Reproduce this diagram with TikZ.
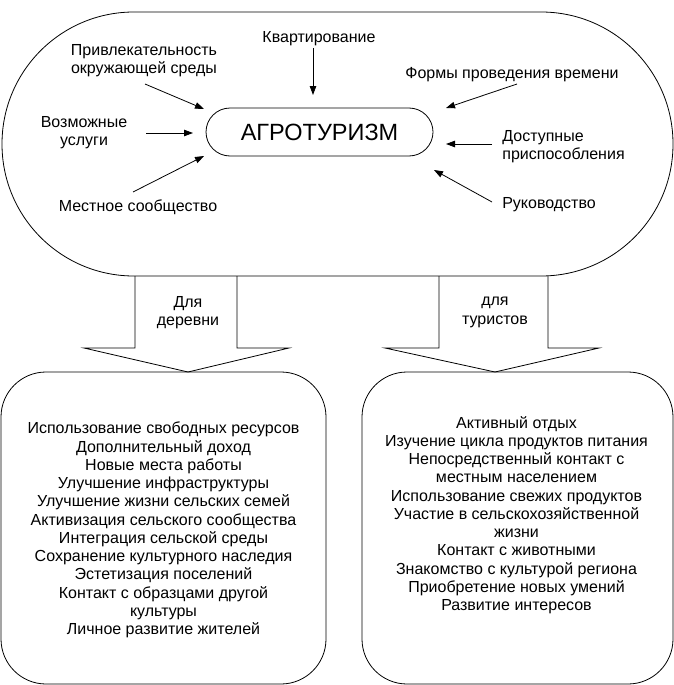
\documentclass[tikz,border=0pt]{standalone}
\usepackage{fontspec}
\setmainfont{Liberation Sans}
\usetikzlibrary{arrows.meta}
\begin{document}
\begin{tikzpicture}[x=1pt,y=-1pt,
  line width=0.8pt,
  lbl/.style={inner sep=0pt,align=center,font=\fontsize{16}{18.3}\selectfont},
  boxtxt/.style={inner sep=0pt,align=center,font=\fontsize{16}{18.25}\selectfont},
  arr/.style={-{Triangle[length=9pt,width=6.5pt]}},
  blockarrow/.style={line width=0.8pt}]
\useasboundingbox (0,0) rectangle (674,685);
% outer stadium
\draw[rounded corners=131.9pt] (2,12) rectangle (673,276);
% central node
\node[draw,rounded corners=24pt,minimum width=227pt,minimum height=48pt,inner sep=0pt,
  font=\fontsize{23.5}{26}\selectfont] (agro) at (319.5,132) {АГРОТУРИЗМ};
% labels
\node[lbl] (privl) at (144,61) {Привлекательность\\окружающей среды};
\node[lbl] (vozm) at (84,132.5) {Возможные\\услуги};
\node[lbl] (mest) at (138,207) {Местное сообщество};
\node[lbl] (kvart) at (319,39) {Квартирование};
\node[lbl] (formy) at (512,75) {Формы проведения времени};
\node[lbl,align=left,anchor=west] (dost) at (502,146.5) {Доступные\\приспособления};
\node[lbl] (ruk) at (549,205) {Руководство};
% arrow end points
\coordinate (p1s) at (145,84);  \coordinate (p1e) at (204,109);
\coordinate (p2s) at (146,133); \coordinate (p2e) at (193,133);
\coordinate (p3s) at (133,192); \coordinate (p3e) at (204,156);
\coordinate (p4s) at (313,48);  \coordinate (p4e) at (313,95);
\coordinate (p5s) at (517,84);  \coordinate (p5e) at (446,108);
\coordinate (p6s) at (492,144); \coordinate (p6e) at (446,144);
\coordinate (p7s) at (492,202); \coordinate (p7e) at (434,170);
\draw[arr] (p1s) -- (p1e);
\draw[arr] (p2s) -- (p2e);
\draw[arr] (p3s) -- (p3e);
\draw[arr] (p4s) -- (p4e);
\draw[arr] (p5s) -- (p5e);
\draw[arr] (p6s) -- (p6e);
\draw[arr] (p7s) -- (p7e);
% block arrows
\draw[blockarrow] (135,276) -- (135,348) -- (84,348) -- (188,372) -- (289,348) -- (237,348) -- (237,276);
\draw[blockarrow] (439,276) -- (439,348) -- (385,348) -- (495,372) -- (599,348) -- (548,348) -- (548,276);
\node[lbl] (dlya1) at (188,312.5) {Для\\деревни};
\node[lbl] (dlya2) at (495,312.5) {для\\туристов};
% bottom boxes
\draw[rounded corners=45pt] (1,372) rectangle (326,684);
\draw[rounded corners=45pt] (362,372) rectangle (673,684);
\node[boxtxt] (village) at (163.5,530) {Использование свободных ресурсов\\
Дополнительный доход\\
Новые места работы\\
Улучшение инфраструктуры\\
Улучшение жизни сельских семей\\
Активизация сельского сообщества\\
Интеграция сельской среды\\
Сохранение культурного наследия\\
Эстетизация поселений\\
Контакт с образцами другой\\
культуры\\
Личное развитие жителей};
\node[boxtxt] (tourists) at (516.5,515) {Активный отдых\\
Изучение цикла продуктов питания\\
Непосредственный контакт с\\
местным населением\\
Использование свежих продуктов\\
Участие в сельскохозяйственной\\
жизни\\
Контакт с животными\\
Знакомство с культурой региона\\
Приобретение новых умений\\
Развитие интересов};
\end{tikzpicture}
\end{document}
